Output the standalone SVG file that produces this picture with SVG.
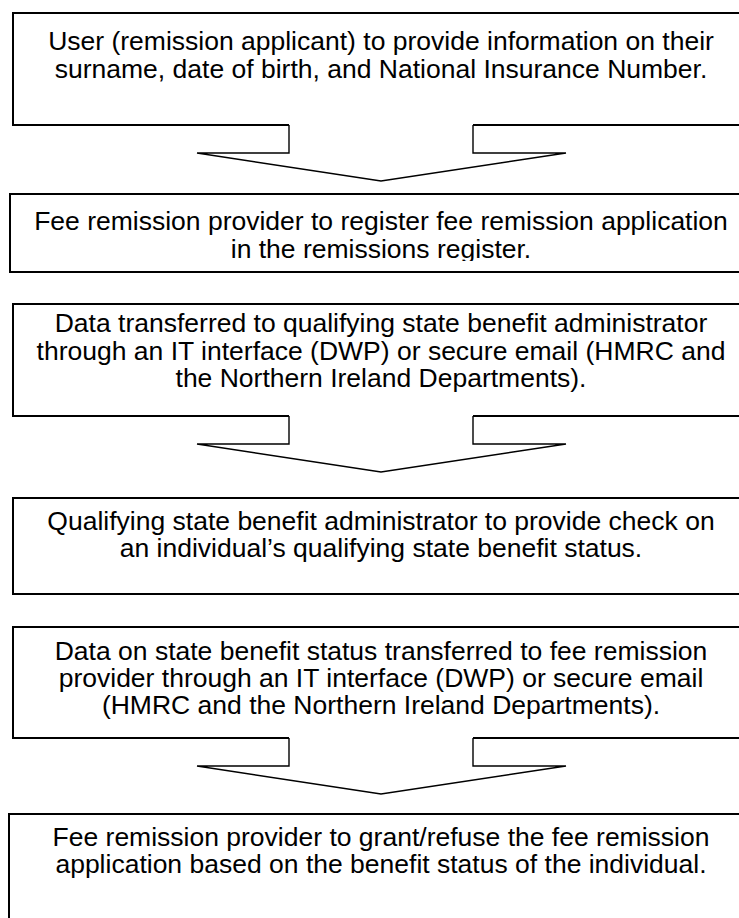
<svg xmlns="http://www.w3.org/2000/svg" width="739" height="918" viewBox="0 0 739 918">
<style>
  .box { fill: none; stroke: #000; stroke-width: 2; }
  .arrow { fill: none; stroke: #000; stroke-width: 1.4; stroke-linejoin: miter; }
  text { font-family: "Liberation Sans", Arial, sans-serif; font-size: 26.5px; fill: #000; text-anchor: middle; }
</style>
<defs>
  <clipPath id="clip2"><rect x="0" y="194" width="760" height="67"/></clipPath>
</defs>
<rect width="739" height="918" fill="#fff"/>
<g id="node1">
  <path class="box" d="M289,125 H13 V13 H752 V125 H473"/>
  <text x="381" y="50">User (remission applicant) to provide information on their</text>
  <text x="381" y="78">surname, date of birth, and National Insurance Number.</text>
</g>
<g id="node2">
  <rect class="box" x="10" y="194" width="742" height="78"/>
  <g clip-path="url(#clip2)">
    <text x="381" y="230">Fee remission provider to register fee remission application</text>
    <text x="381" y="258">in the remissions register.</text>
  </g>
</g>
<g id="node3">
  <path class="box" d="M289,416 H13 V304 H752 V416 H473"/>
  <text x="381" y="332">Data transferred to qualifying state benefit administrator</text>
  <text x="381" y="360">through an IT interface (DWP) or secure email (HMRC and</text>
  <text x="381" y="387">the Northern Ireland Departments).</text>
</g>
<g id="node4">
  <rect class="box" x="13" y="498" width="739" height="96"/>
  <text x="381" y="530">Qualifying state benefit administrator to provide check on</text>
  <text x="381" y="557">an individual’s qualifying state benefit status.</text>
</g>
<g id="node5">
  <path class="box" d="M289,738 H13 V627 H752 V738 H473"/>
  <text x="381" y="660">Data on state benefit status transferred to fee remission</text>
  <text x="381" y="687">provider through an IT interface (DWP) or secure email</text>
  <text x="381" y="714">(HMRC and the Northern Ireland Departments).</text>
</g>
<g id="node6">
  <path class="box" d="M9,930 V814 H752"/>
  <text x="381" y="846">Fee remission provider to grant/refuse the fee remission</text>
  <text x="381" y="873">application based on the benefit status of the individual.</text>
</g>
<g id="connectors">
  <path class="arrow" d="M289,125 V153 H197 L381,181 L566,153 H473 V125"/>
  <path class="arrow" d="M289,416 V444 H197 L381,472 L566,444 H473 V416"/>
  <path class="arrow" d="M289,738 V766 H197 L381,794 L566,766 H473 V738"/>
</g>
</svg>
